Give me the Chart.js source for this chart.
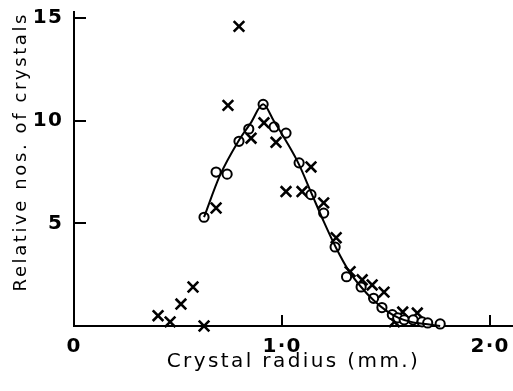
<!DOCTYPE html>
<html>
<head>
<meta charset="utf-8">
<script src="https://cdn.jsdelivr.net/npm/chart.js@4"></script>
<style>
html,body{margin:0;padding:0;background:#fff;}
#wrap{width:513px;height:391px;}
</style>
</head>
<body>
<div id="wrap"><canvas id="c" width="513" height="391"></canvas></div>
<script>
// Data
const circleX = [0.625, 0.683, 0.736, 0.793, 0.840, 0.909, 0.962, 1.019, 1.082, 1.139, 1.200, 1.255, 1.310, 1.380, 1.440, 1.480, 1.530, 1.556, 1.587, 1.630, 1.673, 1.700, 1.760];
const circleY = [5.3, 7.5, 7.4, 9.0, 9.6, 10.8, 9.7, 9.4, 7.95, 6.4, 5.5, 3.85, 2.4, 1.9, 1.35, 0.9, 0.55, 0.4, 0.3, 0.3, 0.2, 0.15, 0.1];

const crossX = [0.404, 0.462, 0.514, 0.572, 0.625, 0.683, 0.740, 0.793, 0.851, 0.913, 0.971, 1.019, 1.096, 1.139, 1.200, 1.260, 1.327, 1.385, 1.433, 1.490, 1.540, 1.580, 1.650];
const crossY = [0.5, 0.2, 1.07, 1.9, 0.0, 5.75, 10.75, 14.6, 9.15, 9.9, 8.95, 6.55, 6.55, 7.75, 6.0, 4.3, 2.65, 2.25, 2.0, 1.65, 0.2, 0.68, 0.63];

const curveX = [0.625, 0.70, 0.79, 0.85, 0.909, 0.96, 1.02, 1.08, 1.14, 1.20, 1.26, 1.32, 1.38, 1.44, 1.50, 1.56, 1.62, 1.70, 1.76];
const curveY = [5.3, 7.3, 9.0, 9.9, 10.8, 10.0, 9.0, 7.9, 6.5, 5.1, 3.8, 2.7, 1.9, 1.25, 0.75, 0.4, 0.2, 0.08, 0.0];

const xTickValues = [0, 1, 2];
const xTickLabels = ['0', '1·0', '2·0'];
const yTickValues = [5, 10, 15];
const yTickLabels = ['5', '10', '15'];

const toPts = (xs, ys) => xs.map((x, i) => ({x: x, y: ys[i]}));

const canvas = document.getElementById('c');
const ctx0 = canvas.getContext('2d');
// Letter-spaced text, anchored from the left so the spacing does not shift centred/right-aligned text
function spacingFor(font) {
  if (/bold/.test(font)) return 1.2;
  if (/18px/.test(font)) return 2.6;
  return 2.4;
}
const origFill = ctx0.fillText.bind(ctx0);
ctx0.fillText = function (text, x, y, maxWidth) {
  const a = this.textAlign;
  const f = this.font;
  this.letterSpacing = spacingFor(f) + 'px';
  this.font = f;
  const w = this.measureText(text).width;
  let sx = x;
  if (a === 'center') sx = x - w / 2;
  else if (a === 'right' || a === 'end') sx = x - w;
  this.textAlign = 'left';
  origFill(text, sx, y);
  this.textAlign = a;
  this.letterSpacing = '0px';
  this.font = f;
};

const innerTicks = {
  id: 'innerTicks',
  afterDraw(chart) {
    const ctx = chart.ctx, xs = chart.scales.x, ys = chart.scales.y;
    ctx.save();
    ctx.strokeStyle = '#000';
    ctx.lineWidth = 2;
    ctx.beginPath();
    yTickValues.forEach(v => {
      const py = Math.round(ys.getPixelForValue(v));
      ctx.moveTo(xs.left, py);
      ctx.lineTo(xs.left + 12, py);
    });
    xTickValues.slice(1).forEach(v => {
      const px = Math.round(xs.getPixelForValue(v));
      ctx.moveTo(px, ys.bottom);
      ctx.lineTo(px, ys.bottom - 11);
    });
    ctx.stroke();
    ctx.restore();
  }
};

new Chart(canvas, {
  type: 'scatter',
  data: {
    datasets: [
      {
        type: 'line',
        data: toPts(curveX, curveY),
        borderColor: '#000',
        borderWidth: 2,
        pointRadius: 0,
        fill: false,
        tension: 0.4,
        cubicInterpolationMode: 'monotone',
        clip: false
      },
      {
        data: toPts(circleX, circleY),
        pointStyle: 'circle',
        pointRadius: 4.6,
        borderColor: '#000',
        borderWidth: 2,
        backgroundColor: '#fff',
        clip: false
      },
      {
        data: toPts(crossX, crossY),
        pointStyle: 'crossRot',
        pointRadius: 7.5,
        borderColor: '#000',
        borderWidth: 2.6,
        clip: false
      }
    ]
  },
  options: {
    responsive: false,
    animation: false,
    events: [],
    layout: {autoPadding: false, padding: {top: 12, right: 0, left: 0, bottom: 0}},
    plugins: {legend: {display: false}, tooltip: {enabled: false}},
    scales: {
      x: {
        type: 'linear',
        min: 0,
        max: 2.11,
        afterFit: s => { s.height = 65; s.paddingLeft = 0; s.paddingRight = 0; },
        afterBuildTicks: s => { s.ticks = xTickValues.map(v => ({value: v})); },
        grid: {display: false, drawTicks: false},
        border: {display: true, color: '#000', width: 2},
        ticks: {
          padding: 9,
          color: '#000',
          font: {family: 'DejaVu Sans', size: 20, weight: 'bold'},
          maxRotation: 0,
          autoSkip: false,
          callback: v => { const i = xTickValues.indexOf(v); return i >= 0 ? xTickLabels[i] : ''; }
        },
        title: {
          display: true,
          text: 'Crystal radius (mm.)',
          color: '#000',
          font: {family: 'DejaVu Sans', size: 20},
          padding: {top: 0, bottom: 17}
        }
      },
      y: {
        type: 'linear',
        min: 0,
        max: 15.3,
        afterFit: s => { s.width = 74; s.paddingTop = 0; s.paddingBottom = 0; },
        afterBuildTicks: s => { s.ticks = yTickValues.map(v => ({value: v})); },
        grid: {display: false, drawTicks: false},
        border: {display: true, color: '#000', width: 2},
        ticks: {
          padding: 11,
          color: '#000',
          font: {family: 'DejaVu Sans', size: 20, weight: 'bold'},
          autoSkip: false,
          callback: v => { const i = yTickValues.indexOf(v); return i >= 0 ? yTickLabels[i] : ''; }
        },
        title: {
          display: true,
          text: 'Relative nos. of crystals',
          align: 'end',
          color: '#000',
          font: {family: 'DejaVu Sans', size: 18},
          padding: {top: 11, bottom: 0}
        }
      }
    }
  },
  plugins: [innerTicks]
});
</script>
</body>
</html>
